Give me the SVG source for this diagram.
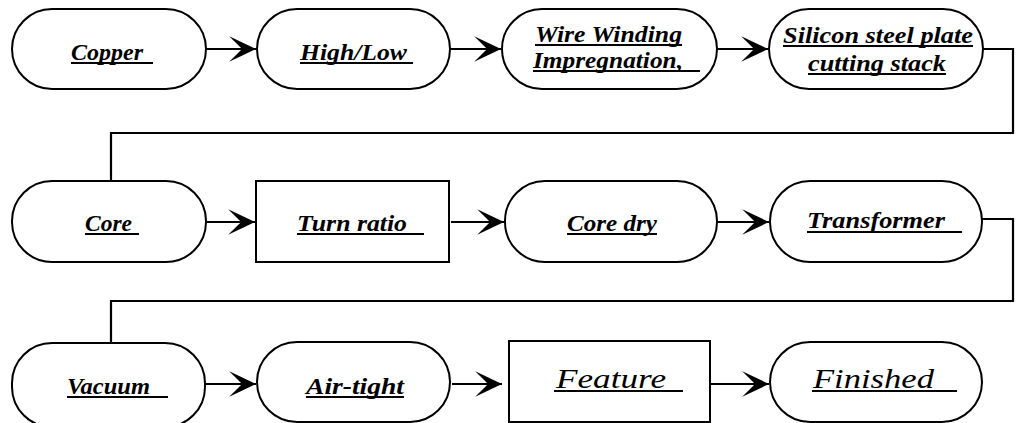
<svg xmlns="http://www.w3.org/2000/svg" width="1018" height="423" viewBox="0 0 1018 423">
<style>
.n{fill:#fff;stroke:#000;stroke-width:2}
.c{fill:none;stroke:#000;stroke-width:2.2}
.t{font-family:"Liberation Serif","DejaVu Serif",serif;font-weight:bold;font-style:italic;font-size:24px;fill:#000}
.m{font-family:"Liberation Serif","DejaVu Serif",serif;font-style:italic;font-size:28px;fill:#000}
.ul{stroke:#000;stroke-width:1.8}
</style>
<defs>
<marker id="ah" markerUnits="userSpaceOnUse" markerWidth="30" markerHeight="30" viewBox="-26 -13 28 26" refX="0" refY="0" orient="auto">
<path d="M0,0 L-25,-12 L-13,0 L-25,12 Z" fill="#000"/>
</marker>
</defs>
<g id="connectors">
<path class="c" d="M206,49 H256" marker-end="url(#ah)"/>
<path class="c" d="M450,49 H501" marker-end="url(#ah)"/>
<path class="c" d="M717,49 H768" marker-end="url(#ah)"/>
<path class="c" d="M983,49 H1013 V133 H111 V181"/>
<path class="c" d="M206,222 H255" marker-end="url(#ah)"/>
<path class="c" d="M451,222 H504" marker-end="url(#ah)"/>
<path class="c" d="M717,222 H769" marker-end="url(#ah)"/>
<path class="c" d="M982,219 H1013 V301 H111 V344"/>
<path class="c" d="M205,384 H256" marker-end="url(#ah)"/>
<path class="c" d="M452,384 H502" marker-end="url(#ah)"/>
<path class="c" d="M711,384 H769" marker-end="url(#ah)"/>
</g>
<g id="n-copper"><rect class="n" x="12" y="9" width="194" height="80" rx="40"/><text class="t" x="71" y="60" textLength="72" lengthAdjust="spacingAndGlyphs">Copper</text><line class="ul" x1="71" y1="63" x2="153" y2="63"/></g>
<g id="n-highlow"><rect class="n" x="257" y="9" width="193" height="80" rx="40"/><text class="t" x="300" y="60" textLength="107" lengthAdjust="spacingAndGlyphs">High/Low</text><line class="ul" x1="300" y1="63" x2="413" y2="63"/></g>
<g id="n-wire"><rect class="n" x="502" y="9" width="215" height="80" rx="40"/><text class="t" x="535" y="42" textLength="147" lengthAdjust="spacingAndGlyphs">Wire Winding</text><line class="ul" x1="535" y1="45" x2="682" y2="45"/><text class="t" x="533" y="68" textLength="150" lengthAdjust="spacingAndGlyphs">Impregnation,</text><line class="ul" x1="533" y1="71" x2="700" y2="71"/></g>
<g id="n-silicon"><rect class="n" x="769" y="9" width="214" height="80" rx="40"/><text class="t" x="783" y="43" textLength="190" lengthAdjust="spacingAndGlyphs">Silicon steel plate</text><line class="ul" x1="783" y1="46" x2="973" y2="46"/><text class="t" x="808" y="71" textLength="138" lengthAdjust="spacingAndGlyphs">cutting stack</text><line class="ul" x1="808" y1="74" x2="946" y2="74"/></g>
<g id="n-core"><rect class="n" x="12" y="181" width="194" height="81" rx="40"/><text class="t" x="85" y="231" textLength="47" lengthAdjust="spacingAndGlyphs">Core</text><line class="ul" x1="85" y1="234" x2="139" y2="234"/></g>
<g id="n-turn"><rect class="n" x="256" y="181" width="193" height="81"/><text class="t" x="297" y="231" textLength="110" lengthAdjust="spacingAndGlyphs">Turn ratio</text><line class="ul" x1="297" y1="234" x2="424" y2="234"/></g>
<g id="n-coredry"><rect class="n" x="505" y="181" width="212" height="81" rx="40"/><text class="t" x="567" y="231" textLength="90" lengthAdjust="spacingAndGlyphs">Core dry</text><line class="ul" x1="567" y1="234" x2="657" y2="234"/></g>
<g id="n-transformer"><rect class="n" x="770" y="181" width="212" height="81" rx="40"/><text class="t" x="807" y="228" textLength="138" lengthAdjust="spacingAndGlyphs">Transformer</text><line class="ul" x1="807" y1="232" x2="962" y2="232"/></g>
<g id="n-vacuum"><rect class="n" x="12" y="343" width="193" height="84" rx="40"/><text class="t" x="67" y="394" textLength="83" lengthAdjust="spacingAndGlyphs">Vacuum</text><line class="ul" x1="67" y1="397" x2="168" y2="397"/></g>
<g id="n-airtight"><rect class="n" x="257" y="342" width="193" height="80" rx="40"/><text class="t" x="306" y="394" textLength="98" lengthAdjust="spacingAndGlyphs">Air-tight</text><line class="ul" x1="306" y1="397" x2="404" y2="397"/></g>
<g id="n-feature"><rect class="n" x="509" y="341" width="201" height="81"/><text class="m" x="556" y="388" textLength="110" lengthAdjust="spacingAndGlyphs">Feature</text><line class="ul" x1="554" y1="391" x2="683" y2="391"/></g>
<g id="n-finished"><rect class="n" x="770" y="342" width="212" height="80" rx="40"/><text class="m" x="813" y="388" textLength="121" lengthAdjust="spacingAndGlyphs">Finished</text><line class="ul" x1="812" y1="391" x2="957" y2="391"/></g>
</svg>
